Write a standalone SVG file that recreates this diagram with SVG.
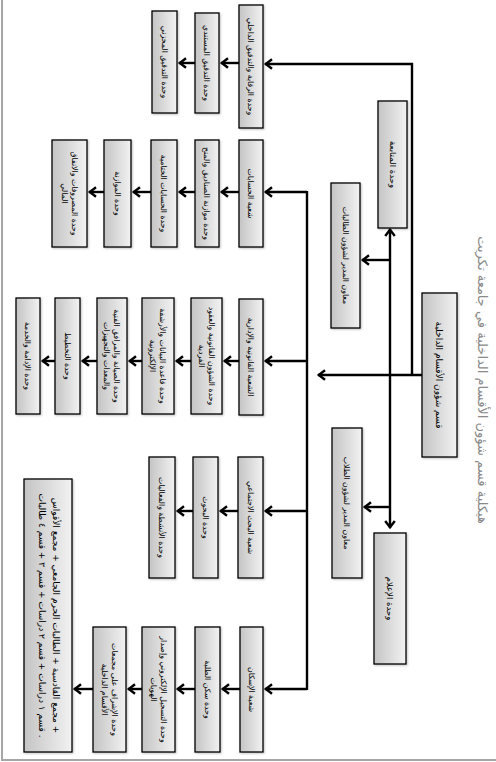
<svg xmlns="http://www.w3.org/2000/svg" width="496" height="762" viewBox="0 0 496 762">
<defs>
<linearGradient id="g" x1="0" y1="0" x2="1" y2="0">
<stop offset="0" stop-color="#c4c4c4"/>
<stop offset="1" stop-color="#f2f2f2"/>
</linearGradient>
<marker id="ah" viewBox="-10 -7 12 14" refX="0" refY="0" markerWidth="12" markerHeight="14" markerUnits="userSpaceOnUse" orient="auto">
<path d="M-7,-4.8 L-0.8,0 L-7,4.8" fill="none" stroke="#000" stroke-width="2.4"/>
</marker>
<filter id="sh" x="-20%" y="-20%" width="140%" height="140%">
<feGaussianBlur in="SourceAlpha" stdDeviation="1.2"/>
<feOffset dx="1" dy="1" result="b"/>
<feComponentTransfer><feFuncA type="linear" slope="0.25"/></feComponentTransfer>
<feMerge><feMergeNode/><feMergeNode in="SourceGraphic"/></feMerge>
</filter>
</defs>
<style>
.b{fill:url(#g);stroke:#000;stroke-width:1.3;filter:url(#sh)}
.t{font-family:"DejaVu Sans",sans-serif;font-size:7.8px;fill:#000;text-anchor:middle}
.c{fill:none;stroke:#000;stroke-width:2.4}
.a{fill:none;stroke:#000;stroke-width:2.4;marker-end:url(#ah)}
.ttl{font-family:"DejaVu Sans",sans-serif;font-size:13px;fill:#8a8a8a;text-anchor:middle}
.fr{fill:none;stroke:#a6a6a6;stroke-width:2}
</style>
<rect width="496" height="762" fill="#fff"/>
<path class="fr" d="M2,0 V760 H496"/>
<text class="ttl" transform="translate(483,380) rotate(90)" dy="0.35em">هيكلية قسم شؤون الأقسام الداخلية في جامعة تكريت</text>

<g id="connectors">
<path class="a" d="M422,375 H318"/>
<path class="a" d="M412,375 V64 H265"/>
<path class="a" d="M390,375 V229"/>
<path class="a" d="M390,375 V528"/>
<path class="a" d="M390,260 H362"/>
<path class="a" d="M390,507 H364"/>
<path class="c" d="M307,191 V690"/>
<path class="a" d="M307,192 H265"/>
<path class="a" d="M307,361 H265"/>
<path class="a" d="M307,511 H265"/>
<path class="a" d="M307,689 H265"/>
<path class="a" d="M239,63 H221"/>
<path class="a" d="M195,63 H179"/>
<path class="a" d="M239,192 H221"/>
<path class="a" d="M195,192 H179"/>
<path class="a" d="M151,192 H133"/>
<path class="a" d="M104,192 H89"/>
<path class="a" d="M239,361 H224"/>
<path class="a" d="M191,361 H176"/>
<path class="a" d="M142,361 H129"/>
<path class="a" d="M97,361 H82"/>
<path class="a" d="M55,361 H42"/>
<path class="a" d="M238,511 H220"/>
<path class="a" d="M193,511 H177"/>
<path class="a" d="M240,689 H222"/>
<path class="a" d="M195,689 H177"/>
<path class="a" d="M142,689 H128"/>
<path class="a" d="M93,689 H74"/>
</g>

<g id="main"><rect class="b" x="422" y="293" width="35" height="164"/><text class="t" style="font-size:9px" transform="translate(439.5,375) rotate(90)" dy="0.35em">قسم شؤون الأقسام الداخلية</text></g>
<g id="followup"><rect class="b" x="378" y="101" width="29" height="127"/><text class="t" style="font-size:8.5px" transform="translate(392.5,164.5) rotate(90)" dy="0.35em">وحدة المتابعة</text></g>
<g id="media"><rect class="b" x="374" y="533" width="32" height="131"/><text class="t" style="font-size:8.5px" transform="translate(390,598.5) rotate(90)" dy="0.35em">وحدة الإعلام</text></g>
<g id="asst-female"><rect class="b" x="331" y="183" width="29" height="145"/><text class="t" transform="translate(345.5,255.5) rotate(90)" dy="0.35em">معاون المدير لشؤون الطالبات</text></g>
<g id="asst-male"><rect class="b" x="332" y="428" width="30" height="150"/><text class="t" transform="translate(347,503) rotate(90)" dy="0.35em">معاون المدير لشؤون الطلاب</text></g>

<g id="c1-head"><rect class="b" x="239" y="5" width="24" height="123"/><text class="t" transform="translate(251,66.5) rotate(90)" dy="0.35em">وحدة الرقابة والتدقيق الداخلي</text></g>
<g id="c1-1"><rect class="b" x="195" y="13" width="24" height="100"/><text class="t" transform="translate(207,63) rotate(90)" dy="0.35em">وحدة التدقيق المستندي</text></g>
<g id="c1-2"><rect class="b" x="152" y="11" width="25" height="102"/><text class="t" transform="translate(164.5,62) rotate(90)" dy="0.35em">وحدة التدقيق المخزني</text></g>

<g id="c2-head"><rect class="b" x="239" y="140" width="24" height="107"/><text class="t" transform="translate(251,193.5) rotate(90)" dy="0.35em">شعبة الحسابات</text></g>
<g id="c2-1"><rect class="b" x="195" y="140" width="24" height="107"/><text class="t" transform="translate(207,193.5) rotate(90)" dy="0.35em">وحدة موازنة الصناديق والمنح</text></g>
<g id="c2-2"><rect class="b" x="151" y="140" width="26" height="107"/><text class="t" transform="translate(164,193.5) rotate(90)" dy="0.35em">وحدة الحسابات الختامية</text></g>
<g id="c2-3"><rect class="b" x="104" y="140" width="27" height="107"/><text class="t" transform="translate(117.5,193.5) rotate(90)" dy="0.35em">وحدة الموازنة</text></g>
<g id="c2-4"><rect class="b" x="52" y="140" width="35" height="107"/><text class="t" transform="translate(69.5,193.5) rotate(90)"><tspan x="0" dy="-2">وحدة المصروفات والانفاق</tspan><tspan x="0" dy="10">المالي</tspan></text></g>

<g id="c3-head"><rect class="b" x="239" y="299" width="24" height="116"/><text class="t" transform="translate(251,357) rotate(90)" dy="0.35em">الشعبة القانونية والإدارية</text></g>
<g id="c3-1"><rect class="b" x="191" y="298" width="31" height="116"/><text class="t" transform="translate(206.5,356) rotate(90)"><tspan x="0" dy="-2">وحدة الشؤون القانونية والعقود</tspan><tspan x="0" dy="10">الفردية</tspan></text></g>
<g id="c3-2"><rect class="b" x="142" y="298" width="32" height="116"/><text class="t" transform="translate(158,356) rotate(90)"><tspan x="0" dy="-2">وحدة قاعدة البيانات والأرشفة</tspan><tspan x="0" dy="10">الإلكترونية</tspan></text></g>
<g id="c3-3"><rect class="b" x="97" y="298" width="30" height="116"/><text class="t" transform="translate(112,356) rotate(90)"><tspan x="0" dy="-2">وحدة الصيانة والمرافق الفنية</tspan><tspan x="0" dy="10">والمعدات والتجهيزات</tspan></text></g>
<g id="c3-4"><rect class="b" x="55" y="298" width="25" height="116"/><text class="t" transform="translate(67.5,356) rotate(90)" dy="0.35em">وحدة التخطيط</text></g>
<g id="c3-5"><rect class="b" x="16" y="298" width="24" height="116"/><text class="t" transform="translate(28,356) rotate(90)" dy="0.35em">وحدة الإدامة والخدمة</text></g>

<g id="c4-head"><rect class="b" x="238" y="457" width="25" height="121"/><text class="t" transform="translate(250.5,517.5) rotate(90)" dy="0.35em">شعبة البحث الاجتماعي</text></g>
<g id="c4-1"><rect class="b" x="193" y="457" width="25" height="121"/><text class="t" transform="translate(205.5,517.5) rotate(90)" dy="0.35em">وحدة البحوث</text></g>
<g id="c4-2"><rect class="b" x="149" y="457" width="26" height="121"/><text class="t" transform="translate(162,517.5) rotate(90)" dy="0.35em">وحدة الأنشطة والفعاليات</text></g>

<g id="c5-head"><rect class="b" x="240" y="627" width="23" height="125"/><text class="t" transform="translate(251.5,689.5) rotate(90)" dy="0.35em">شعبة الإسكان</text></g>
<g id="c5-1"><rect class="b" x="195" y="627" width="25" height="125"/><text class="t" transform="translate(207.5,689.5) rotate(90)" dy="0.35em">وحدة سكن الطلبة</text></g>
<g id="c5-2"><rect class="b" x="142" y="627" width="33" height="125"/><text class="t" transform="translate(158.5,689.5) rotate(90)"><tspan x="0" dy="-2">وحدة التسجيل الإلكتروني وإصدار</tspan><tspan x="0" dy="10">الهويات</tspan></text></g>
<g id="c5-3"><rect class="b" x="93" y="627" width="33" height="125"/><text class="t" transform="translate(109.5,689.5) rotate(90)"><tspan x="0" dy="-2">وحدة الإشراف على مجمعات</tspan><tspan x="0" dy="10">الأقسام الداخلية</tspan></text></g>
<g id="c5-4"><rect class="b" x="24" y="479" width="48" height="273"/><text class="t" style="font-size:9px" transform="translate(48,615.5) rotate(90)"><tspan x="0" dy="-5">مجمع القادسية + الطالبات الحرم الجامعي + مجمع الأقواس +</tspan><tspan x="0" dy="14">قسم ١ دراسات + قسم ٢ دراسات + قسم ٣ + قسم ٤ طالبات .</tspan></text></g>
</svg>
